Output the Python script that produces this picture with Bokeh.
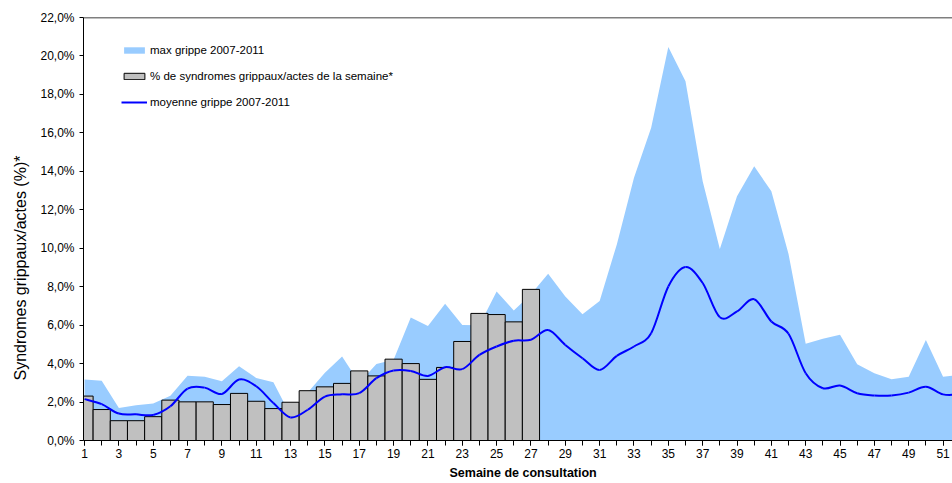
from bokeh.plotting import figure
from bokeh.models import FixedTicker, Legend, LegendItem, Span, Range1d, Title
from bokeh.embed import file_html
from bokeh.resources import INLINE

weeks = list(range(1, 53))
bar_weeks = list(range(1, 28))

pct_syndromes = [2.31, 1.61, 1.03, 1.03, 1.24, 2.10, 2.01, 2.01, 1.87, 2.45,
                 2.04, 1.66, 1.99, 2.59, 2.79, 2.97, 3.62, 3.36, 4.23, 4.00,
                 3.18, 3.80, 5.15, 6.61, 6.55, 6.17, 7.86]

max_grippe = [3.17, 3.11, 1.69, 1.83, 1.93, 2.33, 3.37, 3.32, 3.08, 3.86,
              3.25, 3.03, 1.30, 2.50, 3.53, 4.37, 3.00, 3.98, 4.20, 6.40,
              5.96, 7.11, 6.01, 6.00, 7.75, 6.76, 7.60, 8.67, 7.49, 6.57,
              7.26, 10.20, 13.66, 16.26, 20.46, 18.69, 13.48, 9.96, 12.70, 14.26,
              12.96, 9.70, 5.03, 5.29, 5.50, 3.97, 3.50, 3.19, 3.32, 5.23,
              3.32, 3.40]

moyenne_grippe = [2.15, 1.89, 1.40, 1.36, 1.33, 1.78, 2.70, 2.75, 2.42, 3.17,
                  2.82, 1.95, 1.20, 1.60, 2.28, 2.40, 2.46, 3.24, 3.64, 3.62,
                  3.36, 3.81, 3.71, 4.45, 4.89, 5.19, 5.24, 5.75, 4.97, 4.28,
                  3.67, 4.40, 4.89, 5.58, 8.01, 9.02, 8.19, 6.41, 6.71, 7.35,
                  6.19, 5.55, 3.50, 2.72, 2.86, 2.46, 2.34, 2.34, 2.49, 2.80,
                  2.40, 2.40]

y_ticks = [0, 2, 4, 6, 8, 10, 12, 14, 16, 18, 20, 22]
y_tick_labels = ["0,0%", "2,0%", "4,0%", "6,0%", "8,0%", "10,0%", "12,0%",
                 "14,0%", "16,0%", "18,0%", "20,0%", "22,0%"]
x_label_weeks = list(range(1, 52, 2))

y_title = "Syndromes grippaux/actes (%)*"
x_title = "Semaine de consultation"

FONT = "Liberation Sans"

p = figure(width=952, height=483, x_range=Range1d(0.94, 51.55), y_range=Range1d(0, 22),
           output_backend="svg", toolbar_location=None,
           min_border_left=83, min_border_right=0, min_border_top=17, min_border_bottom=43)
p.outline_line_color = None
p.grid.visible = False
p.background_fill_color = "white"

r_area = p.varea(x=weeks, y1=[0] * len(weeks), y2=max_grippe, fill_color="#99CCFF")
r_bar = p.vbar(x=bar_weeks, top=pct_syndromes, width=1.0, fill_color="#C0C0C0",
               line_color="black", line_width=1)

# smooth line (Excel-style) drawn with bezier segments through the data points
n = len(weeks)
x0s, y0s, x1s, y1s, cx0s, cy0s, cx1s, cy1s = [], [], [], [], [], [], [], []
for i in range(n - 1):
    ia, ib, ic, idd = max(i - 1, 0), i, i + 1, min(i + 2, n - 1)
    xa, ya = weeks[ia], moyenne_grippe[ia]
    xb, yb = weeks[ib], moyenne_grippe[ib]
    xc, yc = weeks[ic], moyenne_grippe[ic]
    xd, yd = weeks[idd], moyenne_grippe[idd]
    x0s.append(xb); y0s.append(yb); x1s.append(xc); y1s.append(yc)
    cx0s.append(xb + (xc - xa) / 6.0); cy0s.append(yb + (yc - ya) / 6.0)
    cx1s.append(xc - (xd - xb) / 6.0); cy1s.append(yc - (yd - yb) / 6.0)
r_line = p.bezier(x0=x0s, y0=y0s, x1=x1s, y1=y1s, cx0=cx0s, cy0=cy0s, cx1=cx1s, cy1=cy1s,
                  line_color="#0000FF", line_width=2)

p.add_layout(Span(location=22, dimension="width", line_color="black", line_width=1.5))

# axes
p.yaxis.ticker = FixedTicker(ticks=y_ticks)
p.yaxis.major_label_overrides = {t: l for t, l in zip(y_ticks, y_tick_labels)}
p.yaxis.minor_tick_line_color = None
p.yaxis.major_tick_out = 4
p.yaxis.major_tick_in = 0
p.yaxis.major_label_standoff = 5

p.xaxis.ticker = FixedTicker(ticks=x_label_weeks, minor_ticks=weeks)
p.xaxis.major_tick_out = 5
p.xaxis.major_tick_in = 0
p.xaxis.minor_tick_out = 5
p.xaxis.minor_tick_in = 0
p.xaxis.minor_tick_line_color = "black"
p.xaxis.major_label_standoff = 3

for ax in (p.xaxis, p.yaxis):
    ax.axis_line_color = "black"
    ax.major_tick_line_color = "black"
    ax.major_label_text_font = FONT
    ax.major_label_text_font_size = "12px"
    ax.major_label_text_color = "black"

# axis titles as side titles, so they can be offset like in the original
p.add_layout(Title(text=y_title, align="left", offset=60, standoff=18,
                   text_font=FONT, text_font_size="16px", text_font_style="normal",
                   text_color="black"), "left")
p.add_layout(Title(text=x_title, align="left", offset=366, standoff=6,
                   text_font=FONT, text_font_size="12.5px", text_font_style="bold",
                   text_color="black"), "below")

legend = Legend(items=[
    LegendItem(label="max grippe 2007-2011", renderers=[r_area]),
    LegendItem(label="% de syndromes grippaux/actes de la semaine*", renderers=[r_bar]),
    LegendItem(label="moyenne grippe 2007-2011", renderers=[r_line]),
], location=(38, 328.5))
legend.padding = 0
legend.margin = 0
legend.spacing = 6
legend.glyph_width = 26
legend.glyph_height = 8
legend.label_height = 20
legend.label_standoff = 3
legend.border_line_color = None
legend.background_fill_alpha = 0
legend.label_text_font = FONT
legend.label_text_font_size = "11.5px"
legend.label_text_color = "black"
p.add_layout(legend)

open("out.html", "w").write(file_html(p, INLINE))
